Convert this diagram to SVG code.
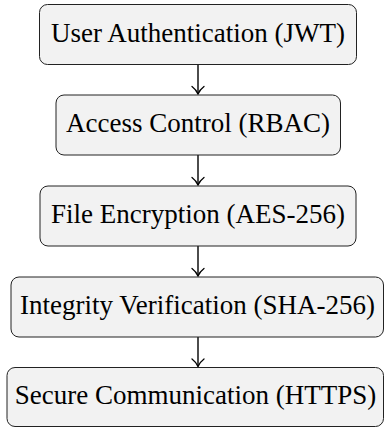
<svg xmlns="http://www.w3.org/2000/svg" width="385" height="428" viewBox="0 0 385 428">
<style>
.box{fill:#f2f2f2;stroke:#222;stroke-width:1}
.lbl{font-family:"Liberation Serif","Times New Roman","DejaVu Serif",serif;font-size:27px;fill:#000;text-anchor:middle}
.edge{stroke:#000;stroke-width:1.4;fill:none}
</style>
<defs>
<marker id="arr" markerUnits="userSpaceOnUse" markerWidth="16" markerHeight="16" viewBox="-9 -8 11 16" refX="0" refY="0" orient="auto" overflow="visible">
<path d="M-7.5,-6 C-5,-2.8 -1.8,-0.7 0,0 C-1.8,0.7 -5,2.8 -7.5,6" fill="none" stroke="#000" stroke-width="1.3" stroke-linecap="round"/>
</marker>
</defs>
<g id="connectors">
<line class="edge" x1="198" y1="64.5" x2="198" y2="94" marker-end="url(#arr)"/>
<line class="edge" x1="198" y1="155" x2="198" y2="185" marker-end="url(#arr)"/>
<line class="edge" x1="198" y1="246" x2="198" y2="276" marker-end="url(#arr)"/>
<line class="edge" x1="198" y1="337" x2="198" y2="366.5" marker-end="url(#arr)"/>
</g>
<g id="n1"><rect class="box" x="39.5" y="4.5" width="317" height="60" rx="8"/><text class="lbl" x="198" y="41.5">User Authentication (JWT)</text></g>
<g id="n2"><rect class="box" x="56" y="95" width="284.5" height="60" rx="8"/><text class="lbl" x="198" y="132">Access Control (RBAC)</text></g>
<g id="n3"><rect class="box" x="40" y="186" width="316" height="60" rx="8"/><text class="lbl" x="198" y="222.5">File Encryption (AES-256)</text></g>
<g id="n4"><rect class="box" x="11" y="277" width="372.5" height="60" rx="8"/><text class="lbl" x="197.5" y="313.5">Integrity Verification (SHA-256)</text></g>
<g id="n5"><rect class="box" x="7" y="367.5" width="376.5" height="59" rx="8"/><text class="lbl" x="195.5" y="404">Secure Communication (HTTPS)</text></g>
</svg>
